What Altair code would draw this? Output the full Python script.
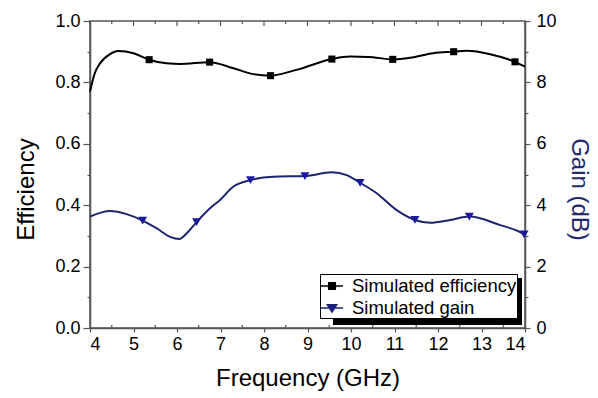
import altair as alt
import pandas as pd

# ---------------- data ----------------
series_names = ["Simulated efficiency", "Simulated gain"]
series_line_colors = ["#000000", "#1c2470"]
series_marker_colors = ["#000000", "#1a1a9a"]

eff_curve_freq = [4.0, 4.11, 4.23, 4.46, 4.65, 5.0, 5.36, 5.76, 6.07, 6.75, 7.3, 7.75,
                  8.15, 8.6, 8.83, 9.56, 9.98, 10.4, 10.96, 11.36, 11.89, 12.36, 12.66,
                  13.2, 13.77, 14.0]
eff_curve_vals = [0.77, 0.83, 0.862, 0.892, 0.902, 0.895, 0.874, 0.862, 0.86, 0.866, 0.846,
                  0.827, 0.822, 0.835, 0.844, 0.876, 0.884, 0.883, 0.875, 0.880, 0.895, 0.90,
                  0.903, 0.892, 0.867, 0.851]
eff_marker_freq = [5.36, 6.75, 8.15, 9.56, 10.96, 12.36, 13.77]
eff_marker_vals = [0.874, 0.866, 0.822, 0.876, 0.875, 0.90, 0.867]

gain_curve_freq = [4.0, 4.46, 4.84, 5.21, 5.53, 5.84, 6.05, 6.22, 6.45, 6.76, 6.99, 7.29,
                   7.69, 8.21, 8.94, 9.56, 9.9, 10.21, 10.59, 11.05, 11.47, 11.82, 12.28,
                   12.72, 13.43, 13.98, 14.0]
gain_curve_vals = [3.63, 3.81, 3.71, 3.5, 3.25, 2.97, 2.90, 3.08, 3.45, 3.9, 4.17, 4.6,
                   4.82, 4.93, 4.95, 5.07, 4.98, 4.73, 4.39, 3.84, 3.52, 3.43, 3.52,
                   3.63, 3.35, 3.05, 3.03]
gain_marker_freq = [5.21, 6.45, 7.69, 8.94, 10.21, 11.47, 12.72, 13.98]
gain_marker_vals = [3.5, 3.45, 4.82, 4.95, 4.73, 3.52, 3.63, 3.05]

x_major_ticks = [4, 5, 6, 7, 8, 9, 10, 11, 12, 13, 14]
x_minor_ticks = [4.5, 5.5, 6.5, 7.5, 8.5, 9.5, 10.5, 11.5, 12.5, 13.5]
eff_ticks = [0.0, 0.1, 0.2, 0.3, 0.4, 0.5, 0.6, 0.7, 0.8, 0.9, 1.0]
gain_ticks = [0, 1, 2, 3, 4, 5, 6, 7, 8, 9, 10]

# ---------------- styling ----------------
FONT = "Liberation Sans"
FRAME = "#555555"
GAIN_LINE = series_line_colors[1]
GAIN_MARK = series_marker_colors[1]
GAIN_TITLE = "#1f2a6e"
W, H = 435, 307
LBL = 18

eff_df = pd.DataFrame({"f": eff_curve_freq, "v": eff_curve_vals})
effm_df = pd.DataFrame({"f": eff_marker_freq, "v": eff_marker_vals})
gain_df = pd.DataFrame({"f": gain_curve_freq, "g": gain_curve_vals})
gainm_df = pd.DataFrame({"f": gain_marker_freq, "g": gain_marker_vals})
major_df = pd.DataFrame({"f": x_major_ticks})
minor_df = pd.DataFrame({"f": x_minor_ticks})
# legend entries only (placed outside the domain and clipped, so only the legend shows them)
legend_df = pd.DataFrame({"f": [30, 30], "v": [0.5, 0.5], "series": series_names})

x_scale = alt.Scale(domain=[4, 14], nice=False, zero=False)
x_axis = alt.Axis(values=x_major_ticks, format="d", tickSize=4, labelPadding=3,
                  labelFontSize=LBL, title="Frequency (GHz)", titleFontSize=24,
                  titlePadding=13)
X = alt.X("f:Q", scale=x_scale, axis=x_axis)

eff_scale = alt.Scale(domain=[0, 1], nice=False, zero=False)
eff_axis = alt.Axis(values=eff_ticks, orient="left",
                    labelExpr="abs(datum.value*5 - round(datum.value*5)) < 0.01 ? format(datum.value, '.1f') : ''",
                    tickSize={"condition": {"test": "abs(datum.value*5 - round(datum.value*5)) < 0.01", "value": 7}, "value": 3},
                    labelPadding=3, labelFontSize=LBL, title="Efficiency", titleFontSize=24,
                    titleBaseline="alphabetic", titleX=-57, titleY=168)
Y_eff = alt.Y("v:Q", scale=eff_scale, axis=eff_axis)

gain_scale = alt.Scale(domain=[0, 10], nice=False, zero=False)
gain_axis = alt.Axis(values=gain_ticks, orient="right",
                     labelExpr="datum.value % 2 == 0 ? format(datum.value, 'd') : ''",
                     tickSize={"condition": {"test": "datum.value % 2 == 0", "value": 5}, "value": 3},
                     labelPadding=6, labelFontSize=LBL, title="Gain (dB)", titleFontSize=24,
                     titleColor=GAIN_TITLE, titleBaseline="alphabetic", titleX=46, titleY=168)
Y_gain = alt.Y("g:Q", scale=gain_scale, axis=gain_axis)

eff_path = "M-1,0L1,0M-0.3,-0.3L0.3,-0.3L0.3,0.3L-0.3,0.3Z"
gain_path = "M-1,0L1,0M-0.42,-0.3L0.42,-0.3L0,0.38Z"

legend = alt.Legend(
    orient="none", legendX=230, legendY=253, title=None,
    labelFont=FONT, labelFontSize=18.5, labelColor="black", labelOffset=8, labelLimit=400,
    symbolSize=484, symbolStrokeWidth=1.5, rowPadding=0, padding=0,
    strokeColor="black", fillColor="white", cornerRadius=0,
)

eff_line = alt.Chart(eff_df).mark_line(interpolate="monotone", strokeWidth=2,
                                       color=series_line_colors[0]).encode(x=X, y=Y_eff)
eff_pts = alt.Chart(effm_df).mark_point(shape="square", filled=True, size=50, opacity=1,
                                        color=series_marker_colors[0]).encode(x=X, y=Y_eff)
legend_pts = alt.Chart(legend_df).mark_point(filled=True, clip=True, opacity=1,
                                             strokeWidth=1.5).encode(
    x=X, y=Y_eff,
    fill=alt.Fill("series:N", scale=alt.Scale(domain=series_names, range=series_marker_colors), legend=legend),
    stroke=alt.Stroke("series:N", scale=alt.Scale(domain=series_names, range=series_line_colors), legend=legend),
    shape=alt.Shape("series:N", scale=alt.Scale(domain=series_names, range=[eff_path, gain_path]), legend=legend),
)
gain_line = alt.Chart(gain_df).mark_line(interpolate="monotone", strokeWidth=2,
                                         color=GAIN_LINE).encode(x=X, y=Y_gain)
gain_pts = alt.Chart(gainm_df).mark_point(shape="triangle-down", filled=True, size=80,
                                          opacity=1, color=GAIN_MARK).encode(x=X, y=Y_gain)

top_major = alt.Chart(major_df).mark_rule(color=FRAME, strokeWidth=1.2).encode(
    x=X, y=alt.value(0), y2=alt.value(5))
top_minor = alt.Chart(minor_df).mark_rule(color=FRAME, strokeWidth=1.2).encode(
    x=X, y=alt.value(0), y2=alt.value(3))
bottom_minor = alt.Chart(minor_df).mark_rule(color=FRAME, strokeWidth=1.2).encode(
    x=X, y=alt.value(H), y2=alt.value(H - 3))

shadow = alt.Chart(major_df.head(1)).mark_rect(color="black").encode(
    x=alt.value(243), x2=alt.value(432), y=alt.value(257), y2=alt.value(304))

left_layer = alt.layer(eff_line, eff_pts, legend_pts)
right_layer = alt.layer(gain_line, gain_pts)

chart = alt.layer(
    top_major, top_minor, bottom_minor, shadow, left_layer, right_layer
).resolve_scale(y="independent").properties(
    width=W, height=H,
    autosize=alt.AutoSizeParams(type="none"),
    padding={"left": 90, "top": 21, "right": 73, "bottom": 70},
    background="white",
).configure_axis(
    labelFont=FONT, titleFont=FONT, titleFontWeight="normal", labelColor="black",
    titleColor="black", domainColor=FRAME, tickColor=FRAME, domainWidth=1.5,
    tickWidth=1.2, grid=False,
).configure_view(stroke=FRAME, strokeWidth=1.5)

chart.save("out.html", embed_options={"renderer": "svg", "actions": False})
